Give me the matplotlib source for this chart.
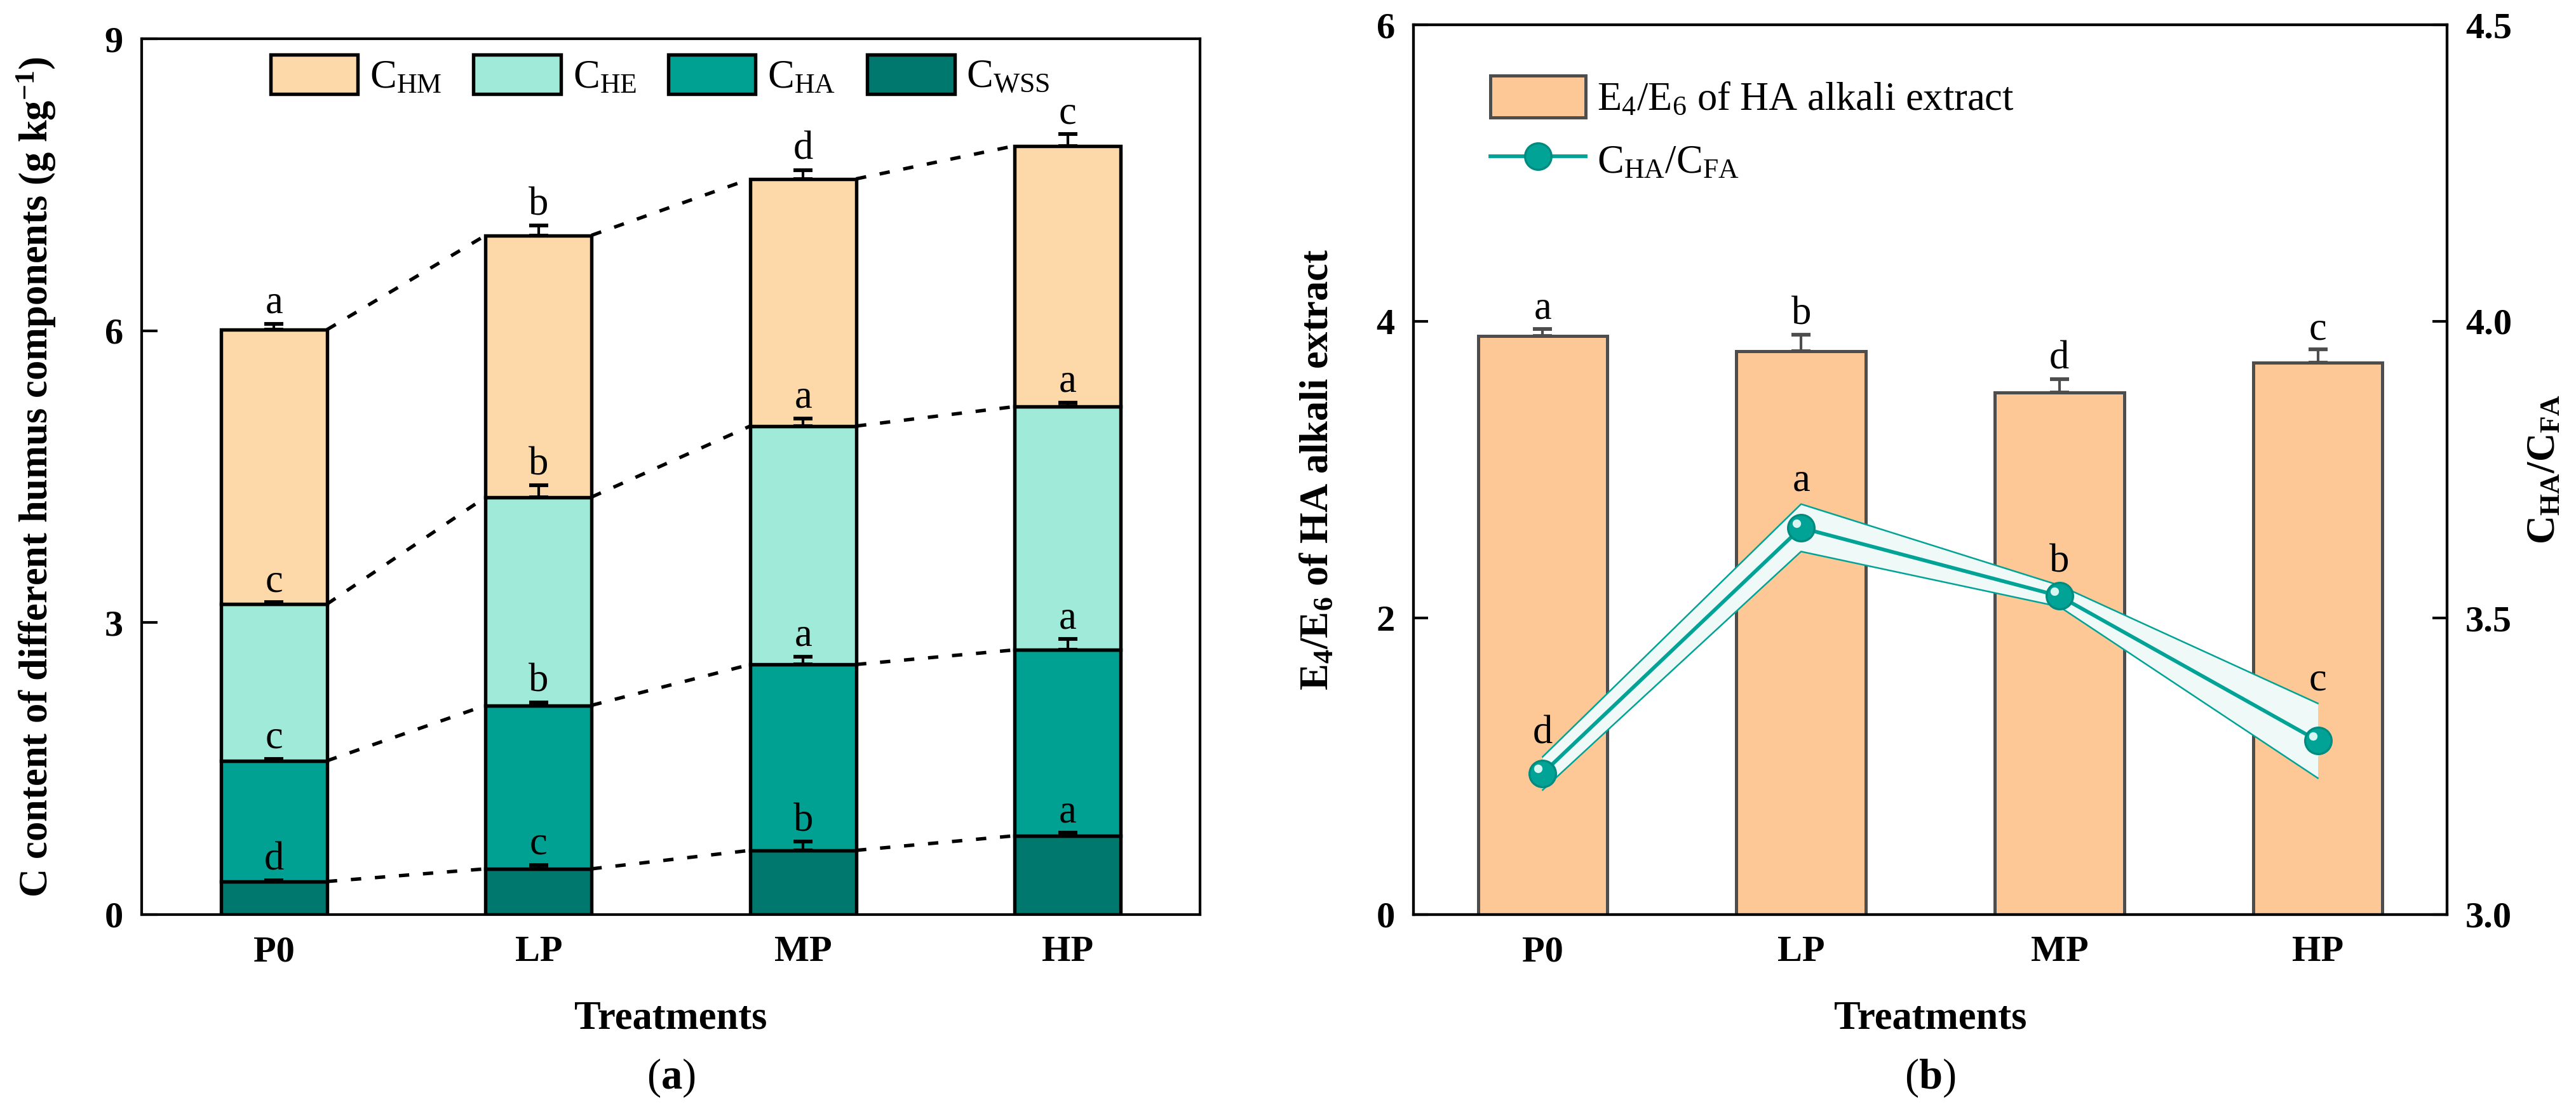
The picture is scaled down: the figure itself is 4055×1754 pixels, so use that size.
import numpy as np
import matplotlib
matplotlib.use('Agg')
import matplotlib.pyplot as plt
from matplotlib.transforms import ScaledTranslation

plt.rcParams['font.family'] = ['Liberation Serif', 'DejaVu Serif']
plt.rcParams['mathtext.fontset'] = 'custom'
plt.rcParams['mathtext.rm'] = 'Liberation Serif'
plt.rcParams['mathtext.it'] = 'Liberation Serif:italic'
plt.rcParams['mathtext.bf'] = 'Liberation Serif:bold'

# ---- data, panel (a) ----
treatments = ['P0', 'LP', 'MP', 'HP']
c_wss = [0.34, 0.47, 0.66, 0.81]
c_ha = [1.24, 1.68, 1.91, 1.91]
c_he = [1.61, 2.14, 2.45, 2.50]
c_hm = [2.82, 2.69, 2.54, 2.68]
wss_err = [0.01, 0.04, 0.09, 0.03]
ha_err = [0.02, 0.03, 0.08, 0.11]
he_err = [0.02, 0.12, 0.08, 0.04]
hm_err = [0.06, 0.10, 0.09, 0.12]
wss_sig = ['d', 'c', 'b', 'a']
ha_sig = ['c', 'b', 'a', 'a']
he_sig = ['c', 'b', 'a', 'a']
hm_sig = ['a', 'b', 'd', 'c']

# ---- data, panel (b) ----
e4e6 = [3.90, 3.80, 3.52, 3.72]
e4e6_err = [0.05, 0.11, 0.09, 0.09]
e4e6_sig = ['a', 'b', 'd', 'c']
ha_fa = [3.238, 3.652, 3.537, 3.293]
ha_fa_err = [0.028, 0.040, 0.018, 0.063]
ha_fa_sig = ['d', 'a', 'b', 'c']

col_hm = '#FDD8A8'
col_he = '#A0EAD9'
col_ha = '#00A192'
col_wss = '#00786E'
col_bar = '#FDC895'
col_line = '#00A396'

fig = plt.figure(figsize=(4055 / 300, 1754 / 300), dpi=300)
ax1 = fig.add_axes([223 / 4055, 1 - 1440 / 1754, (1889 - 223) / 4055, (1440 - 61) / 1754])
ax2 = fig.add_axes([2225 / 4055, 1 - 1440 / 1754, (3852 - 2225) / 4055, (1440 - 39) / 1754])

x = np.arange(len(treatments))
w = 0.4

# ---------- (a) stacked bars ----------
layers = [(c_wss, wss_err, wss_sig, col_wss, r'C$_{\mathrm{WSS}}$'),
          (c_ha, ha_err, ha_sig, col_ha, r'C$_{\mathrm{HA}}$'),
          (c_he, he_err, he_sig, col_he, r'C$_{\mathrm{HE}}$'),
          (c_hm, hm_err, hm_sig, col_hm, r'C$_{\mathrm{HM}}$')]
bottom = np.zeros(len(x))
handles = {}
tops = []
for vals, err, sig, col, lab in layers:
    vals = np.array(vals)
    b = ax1.bar(x, vals, w, bottom=bottom, color=col, edgecolor='black', linewidth=1.3, label=lab, zorder=2)
    handles[lab] = b
    top = bottom + vals
    ax1.errorbar(x, top, yerr=[np.zeros(len(x)), err], fmt='none', ecolor='black',
                 elinewidth=1.0, capsize=3.5, capthick=1.4, zorder=3)
    for xi, ti, ei, s in zip(x, top, err, sig):
        ax1.text(xi, ti + ei + 0.02, s, ha='center', va='bottom', fontsize=15, zorder=4)
    tops.append(top)
    bottom = top

# dashed connectors between neighbouring bars
for top in tops:
    for i in range(len(x) - 1):
        ax1.plot([x[i] + w / 2, x[i + 1] - w / 2], [top[i], top[i + 1]], color='black',
                 lw=1.3, dashes=(3, 4), zorder=1)

ax1.set_xlim(-0.5, 3.5)
ax1.set_ylim(0, 9)
ax1.set_yticks([0, 3, 6, 9])
ax1.set_xticks(x)
ax1.set_xticklabels(treatments, fontweight='bold', fontsize=14)
ax1.tick_params(axis='y', direction='in', length=6, width=1.0, labelsize=14, pad=7)
ax1.tick_params(axis='x', length=0, pad=8)
for lbl in ax1.get_yticklabels():
    lbl.set_fontweight('bold')
for sp in ax1.spines.values():
    sp.set_linewidth(1.0)
ax1.set_ylabel(r'C content of different humus components (g kg$\mathbf{^{-1}}$)', fontsize=15, fontweight='bold')
ax1.yaxis.set_label_coords(-0.079, 0.5)
ax1.set_xlabel('Treatments', fontsize=15, fontweight='bold')
ax1.xaxis.set_label_coords(0.5, -0.098)
order = [r'C$_{\mathrm{HM}}$', r'C$_{\mathrm{HE}}$', r'C$_{\mathrm{HA}}$', r'C$_{\mathrm{WSS}}$']
ax1.legend([handles[k] for k in order], order, ncol=4, loc='center', bbox_to_anchor=(0.49, 0.958),
           frameon=False, fontsize=15, handlelength=2.2, handleheight=1.15,
           handletextpad=0.3, columnspacing=0.8, borderpad=0)

# ---------- (b) bars + ratio line ----------
wb = 0.5
bars = ax2.bar(x, e4e6, wb, color=col_bar, edgecolor='#4d4d4d', linewidth=1.2,
               label=r'E$_4$/E$_6$ of HA alkali extract', zorder=1)
ax2.errorbar(x, e4e6, yerr=[np.zeros(len(x)), e4e6_err], fmt='none', ecolor='#4d4d4d',
             elinewidth=1.0, capsize=3.5, capthick=1.4, zorder=2)
for xi, v, e, s in zip(x, e4e6, e4e6_err, e4e6_sig):
    ax2.text(xi, v + e + 0.01, s, ha='center', va='bottom', fontsize=15)
ax2.set_xlim(-0.5, 3.5)
ax2.set_ylim(0, 6)
ax2.set_yticks([0, 2, 4, 6])
ax2.set_xticks(x)
ax2.set_xticklabels(treatments, fontweight='bold', fontsize=14)
ax2.tick_params(axis='y', direction='in', length=5.5, width=1.0, labelsize=14, pad=7)
ax2.tick_params(axis='x', length=0, pad=8)
for lbl in ax2.get_yticklabels():
    lbl.set_fontweight('bold')
ax2.set_ylabel(r'E$_\mathbf{4}$/E$_\mathbf{6}$ of HA alkali extract', fontsize=15, fontweight='bold')
ax2.yaxis.set_label_coords(-0.074, 0.5)
ax2.set_xlabel('Treatments', fontsize=15, fontweight='bold')
ax2.xaxis.set_label_coords(0.5, -0.097)

ax3 = ax2.twinx()
ratio = np.array(ha_fa)
rerr = np.array(ha_fa_err)
ax3.fill_between(x, ratio - rerr, ratio + rerr, color='#EEF9F8', lw=0, zorder=1)
ax3.plot(x, ratio + rerr, color=col_line, lw=0.6, zorder=2)
ax3.plot(x, ratio - rerr, color=col_line, lw=0.6, zorder=2)
line, = ax3.plot(x, ratio, color=col_line, lw=1.4, marker='o', ms=10, mfc=col_line,
                 mec='#008B80', mew=0.8, label=r'C$_{\mathrm{HA}}$/C$_{\mathrm{FA}}$', zorder=3)
shift = ax3.transData + ScaledTranslation(-1.8 / 72, 1.8 / 72, fig.dpi_scale_trans)
ax3.plot(x, ratio, ls='none', marker='o', ms=3.2, mfc='#D8F6F2', mec='none', transform=shift, zorder=4)
for xi, v, e, s in zip(x, ratio, rerr, ha_fa_sig):
    ax3.text(xi, v + e + 0.008, s, ha='center', va='bottom', fontsize=15, zorder=5)
ax3.set_ylim(3.0, 4.5)
ax3.set_yticks([3.0, 3.5, 4.0, 4.5])
ax3.set_yticklabels(['3.0', '3.5', '4.0', '4.5'])
ax3.tick_params(axis='y', direction='in', length=5.5, width=1.0, labelsize=14, pad=7)
for lbl in ax3.get_yticklabels():
    lbl.set_fontweight('bold')
ax3.set_ylabel(r'C$_\mathbf{HA}$/C$_\mathbf{FA}$', fontsize=15, fontweight='bold')
ax3.yaxis.set_label_coords(1.077, 0.5)
for a in (ax2, ax3):
    for sp in a.spines.values():
        sp.set_linewidth(1.0)

ax2.legend([bars, line], [bars.get_label(), line.get_label()], loc='upper left',
           bbox_to_anchor=(0.055, 0.965), frameon=False, fontsize=15,
           handlelength=2.4, handleheight=1.25, handletextpad=0.3, labelspacing=0.5, borderpad=0)

fig.text((223 + 1889) / 2 / 4055, 1 - 1697 / 1754, r'($\mathbf{a}$)', ha='center', va='center', fontsize=16)
fig.text((2225 + 3852) / 2 / 4055, 1 - 1697 / 1754, r'($\mathbf{b}$)', ha='center', va='center', fontsize=16)

fig.savefig('out.png', dpi=300)
